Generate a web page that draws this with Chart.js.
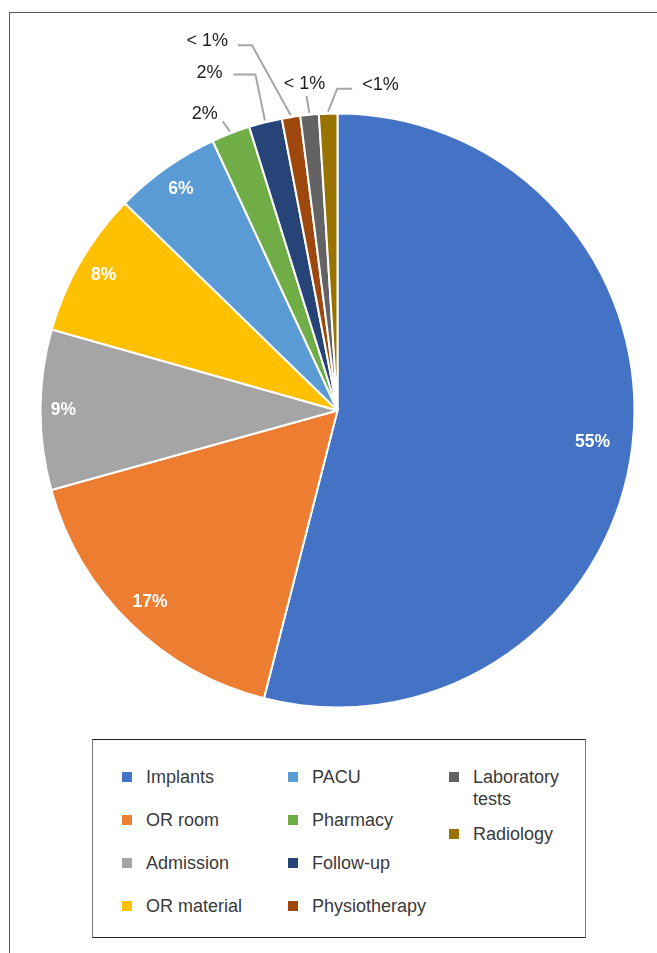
<!DOCTYPE html>
<html>
<head>
<meta charset="utf-8">
<script src="https://cdn.jsdelivr.net/npm/chart.js@4.4.1/dist/chart.umd.min.js"></script>
<style>
  html, body { margin: 0; padding: 0; background: #fff; }
  body { width: 657px; height: 953px; position: relative; overflow: hidden; font-family: "Liberation Sans", Arial, sans-serif; }
  #frame { position: absolute; left: 9px; top: 12px; width: 700px; height: 1000px; border-left: 1.5px solid #5a5a5a; border-top: 1.5px solid #5a5a5a; }
  #wrap { position: absolute; left: 0; top: 0; width: 657px; height: 730px; }
  #legend { position: absolute; left: 92px; top: 739px; width: 492px; height: 197px; border-top: 1px solid #222; border-bottom: 1px solid #222; border-left: 1px solid #777; border-right: 1px solid #777; background: #fff; }
  .col { position: absolute; top: 26px; }
  .item { display: flex; align-items: flex-start; font-size: 18px; line-height: 22px; color: #3a3a3a; }
  .sw { width: 10px; height: 10px; flex: 0 0 10px; margin-top: 6px; margin-right: 14px; }
</style>
</head>
<body>
<div id="frame"></div>
<div id="wrap"><canvas id="c" width="657" height="730"></canvas></div>
<div id="legend"></div>
<script>
const categories = ["Implants", "OR room", "Admission", "OR material", "PACU", "Pharmacy", "Follow-up", "Physiotherapy", "Laboratory tests", "Radiology"];
const shares = [53.96, 16.7, 8.7, 7.9, 5.8, 2.1, 1.8, 1.0, 1.0, 1.0];
const shareLabels = ["55%", "17%", "9%", "8%", "6%", "2%", "2%", "< 1%", "< 1%", "<1%"];
const colors = ["#4472C4", "#ED7D31", "#A5A5A5", "#FFC000", "#5B9BD5", "#70AD47", "#264478", "#9E480E", "#636363", "#997300"];

// label placement styles
const insideInset = [40, 29, 23, 27, 26];
const outsideLeaders = {
  5: { pts: [[-8, -12]], text: [-13, -19], align: "right" },
  6: { pts: [[-10, -48], [-32, -48]], text: [-43, -49], align: "right" },
  7: { pts: [[-39, -72], [-53, -72]], text: [-63, -76], align: "right" },
  8: { pts: [[-3, -19]], text: [-5, -31], align: "center" },
  9: { pts: [[9, -25], [24, -25]], text: [34, -29], align: "left" }
};

const labelPlugin = {
  id: "sliceLabels",
  afterDatasetsDraw(chart) {
    const ctx = chart.ctx;
    const meta = chart.getDatasetMeta(0);
    meta.data.forEach((arc, i) => {
      const p = arc.getProps(["x", "y", "startAngle", "endAngle", "outerRadius"], true);
      const mid = (p.startAngle + p.endAngle) / 2;
      const cos = Math.cos(mid), sin = Math.sin(mid);
      ctx.save();
      if (i < insideInset.length) {
        const r = p.outerRadius - insideInset[i];
        ctx.font = "bold 17.5px 'Liberation Sans', Arial, sans-serif";
        ctx.fillStyle = "#ffffff";
        ctx.textAlign = "center";
        ctx.textBaseline = "middle";
        ctx.fillText(shareLabels[i], p.x + r * cos, p.y + r * sin);
      } else if (outsideLeaders[i]) {
        const spec = outsideLeaders[i];
        const ax = p.x + p.outerRadius * cos, ay = p.y + p.outerRadius * sin;
        const sx = p.x + (p.outerRadius + 2) * cos, sy = p.y + (p.outerRadius + 2) * sin;
        ctx.strokeStyle = "#a6a6a6";
        ctx.lineWidth = 2;
        ctx.beginPath();
        ctx.moveTo(sx, sy);
        spec.pts.forEach(q => ctx.lineTo(ax + q[0], ay + q[1]));
        ctx.stroke();
        ctx.font = "18px 'Liberation Sans', Arial, sans-serif";
        ctx.fillStyle = "#222";
        ctx.textAlign = spec.align;
        ctx.textBaseline = "middle";
        ctx.fillText(shareLabels[i], ax + spec.text[0], ay + spec.text[1]);
      }
      ctx.restore();
    });
  }
};

const chart = new Chart(document.getElementById("c"), {
  type: "pie",
  data: {
    labels: categories,
    datasets: [{
      data: shares,
      backgroundColor: colors,
      borderColor: "#ffffff",
      borderWidth: 2
    }]
  },
  options: {
    responsive: false,
    animation: false,
    layout: { padding: { left: 39.5, top: 112.5, right: 21.5, bottom: 21.5 } },
    plugins: { legend: { display: false }, tooltip: { enabled: false } }
  },
  plugins: [labelPlugin]
});

// HTML legend built from chart data
const columns = [[0, 1, 2, 3], [4, 5, 6, 7], [8, 9]];
const colLeft = [29, 195, 356];
const colGap = [21, 21, 13];
const legend = document.getElementById("legend");
columns.forEach((idxs, c) => {
  const col = document.createElement("div");
  col.className = "col";
  col.style.left = colLeft[c] + "px";
  idxs.forEach((i, k) => {
    const it = document.createElement("div");
    it.className = "item";
    if (k < idxs.length - 1) it.style.marginBottom = colGap[c] + "px";
    const sw = document.createElement("span");
    sw.className = "sw";
    sw.style.background = chart.data.datasets[0].backgroundColor[i];
    const tx = document.createElement("span");
    tx.textContent = chart.data.labels[i];
    if (c === 2) tx.style.width = "100px";
    it.appendChild(sw); it.appendChild(tx);
    col.appendChild(it);
  });
  legend.appendChild(col);
});
</script>
</body>
</html>
